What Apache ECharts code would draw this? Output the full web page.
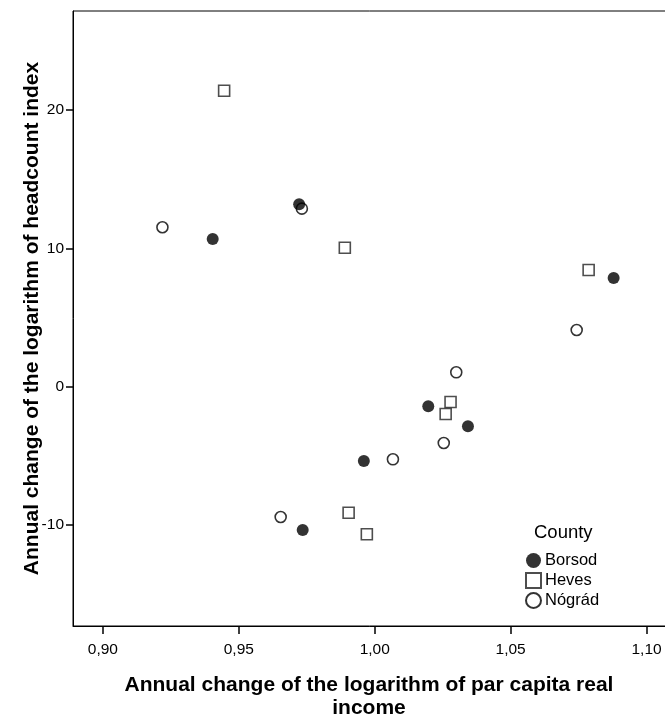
<!DOCTYPE html>
<html>
<head>
<meta charset="utf-8">
<script src="https://cdn.jsdelivr.net/npm/echarts@6/dist/echarts.min.js"></script>
<style>html,body{margin:0;padding:0;background:#fff}#c{width:665px;height:714px}</style>
</head>
<body>
<div id="c"></div>
<script>
const xTicks = [0.90, 0.95, 1.00, 1.05, 1.10];
const yTicks = [-10, 0, 10, 20];
const seriesNames = ['Borsod', 'Heves', 'Nógrád'];
const borsod = [[0.9404,10.68],[0.9722,13.19],[1.0197,-1.42],[1.0343,-2.86],[0.9960,-5.37],[0.9735,-10.36],[1.0879,7.86]];
const heves = [[0.9446,21.40],[0.9890,10.05],[1.0279,-1.11],[1.0261,-1.97],[0.9904,-9.11],[0.9971,-10.67],[1.0787,8.44]];
const nograd = [[0.9219,11.53],[0.9732,12.87],[1.0300,1.04],[1.0254,-4.07],[1.0067,-5.25],[0.9654,-9.42],[1.0743,4.10]];

const font = 'Liberation Sans, Arial, sans-serif';
const chart = echarts.init(document.getElementById('c'));
chart.setOption({
  backgroundColor: '#fff',
  animation: false,
  title: {
    text: 'County', left: 529, top: 518,
    textStyle: {fontFamily: font, fontSize: 18.5, fontWeight: 'normal', color: '#000'}
  },
  legend: {
    orient: 'vertical', left: 525, top: 552, itemGap: 3, padding: 0,
    itemWidth: 15, itemHeight: 15,
    data: seriesNames,
    textStyle: {fontFamily: font, fontSize: 16.5, color: '#000', padding: [0,0,0,-1]}
  },
  grid: {left: 73, top: 11, right: -6, bottom: 88, show: true, borderColor: '#000', borderWidth: 1,
    containLabel: false, outerBoundsMode: 'none'},
  xAxis: {
    type: 'value', min: 0.889, max: 1.109,
    name: 'Annual change of the logarithm of par capita real\nincome',
    nameLocation: 'middle', nameGap: 48, nameMoveOverlap: false,
    nameTextStyle: {fontFamily: font, fontSize: 21, fontWeight: 'bold', color: '#000', lineHeight: 23,
      verticalAlign: 'top', padding: [0, 6, 0, 0]},
    splitLine: {show: false},
    axisLine: {show: true, onZero: false, lineStyle: {color: '#000', width: 1}},
    axisTick: {show: true, customValues: xTicks, length: 8, lineStyle: {color: '#000', width: 1.5}},
    axisLabel: {customValues: xTicks, fontFamily: font, fontSize: 15.5, color: '#000', margin: 16,
      formatter: v => v.toFixed(2).replace('.', ',')}
  },
  yAxis: {
    type: 'value', min: -17.3, max: 27.16,
    name: 'Annual change of the logarithm of headcount index',
    nameLocation: 'middle', nameGap: 30, nameMoveOverlap: false,
    nameTextStyle: {fontFamily: font, fontSize: 21, fontWeight: 'bold', color: '#000'},
    splitLine: {show: false},
    axisLine: {show: true, onZero: false, lineStyle: {color: '#000', width: 1}},
    axisTick: {show: true, customValues: yTicks, length: 7, lineStyle: {color: '#000', width: 1.5}},
    axisLabel: {customValues: yTicks, fontFamily: font, fontSize: 15.5, color: '#000', margin: 9,
      formatter: v => String(v)}
  },
  series: [
    {name: 'Borsod', type: 'scatter', data: borsod, symbol: 'circle', symbolSize: 12, z: 5,
      itemStyle: {color: '#000', borderColor: '#000', borderWidth: 0}},
    {name: 'Heves', type: 'scatter', data: heves, symbol: 'rect', symbolSize: 11, z: 3,
      itemStyle: {color: '#fff', borderColor: '#222', borderWidth: 1.6}},
    {name: 'Nógrád', type: 'scatter', data: nograd, symbol: 'circle', symbolSize: 11, z: 4,
      itemStyle: {color: '#fff', borderColor: '#000', borderWidth: 1.6}}
  ]
});
</script>
</body>
</html>
